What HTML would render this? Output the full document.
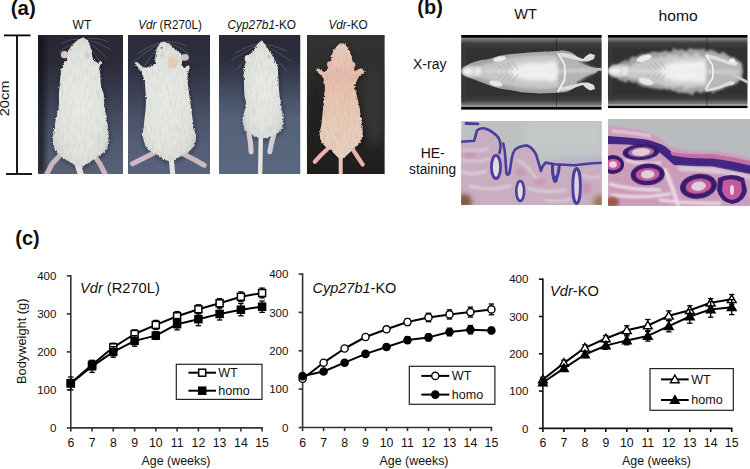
<!DOCTYPE html><html><head><meta charset="utf-8"><style>
html,body{margin:0;padding:0;background:#fff;width:750px;height:469px;overflow:hidden}
svg{display:block}
text{font-family:"Liberation Sans", sans-serif;fill:#111}
</style></head><body>
<svg width="750" height="469" viewBox="0 0 750 469">
<defs>
<filter id="b06" filterUnits="userSpaceOnUse" x="0" y="0" width="750" height="469"><feGaussianBlur stdDeviation="0.6"/></filter>
<filter id="b08" filterUnits="userSpaceOnUse" x="0" y="0" width="750" height="469"><feGaussianBlur stdDeviation="0.8"/></filter>
<filter id="hairy" filterUnits="userSpaceOnUse" x="0" y="0" width="750" height="469"><feTurbulence type="fractalNoise" baseFrequency="0.9 0.45" numOctaves="2" seed="3" result="n"/><feDisplacementMap in="SourceGraphic" in2="n" scale="3" xChannelSelector="R" yChannelSelector="G" result="d"/><feGaussianBlur in="d" stdDeviation="0.6"/></filter>
<filter id="cloudy" filterUnits="userSpaceOnUse" x="0" y="0" width="750" height="469"><feTurbulence type="fractalNoise" baseFrequency="0.18" numOctaves="2" seed="7" result="n"/><feDisplacementMap in="SourceGraphic" in2="n" scale="7" xChannelSelector="R" yChannelSelector="G" result="d"/><feGaussianBlur in="d" stdDeviation="1"/></filter>
<filter id="furtex" filterUnits="userSpaceOnUse" x="0" y="0" width="750" height="469"><feTurbulence type="fractalNoise" baseFrequency="0.5 0.12" numOctaves="2" seed="11" result="n"/><feColorMatrix in="n" type="matrix" values="0 0 0 0 0  0 0 0 0 0  0 0 0 0 0  0 0 0 -2.2 1.25" result="m"/><feComposite in="m" in2="SourceGraphic" operator="in"/></filter>
<filter id="b1" filterUnits="userSpaceOnUse" x="0" y="0" width="750" height="469"><feGaussianBlur stdDeviation="1"/></filter>
<filter id="b15" filterUnits="userSpaceOnUse" x="0" y="0" width="750" height="469"><feGaussianBlur stdDeviation="1.5"/></filter>
<filter id="b25" filterUnits="userSpaceOnUse" x="0" y="0" width="750" height="469"><feGaussianBlur stdDeviation="2.5"/></filter>
<filter id="b4" filterUnits="userSpaceOnUse" x="0" y="0" width="750" height="469"><feGaussianBlur stdDeviation="4"/></filter>
<linearGradient id="bg1" x1="0" y1="0" x2="0" y2="1"><stop offset="0" stop-color="#282633"/><stop offset="0.2" stop-color="#2c2b3a"/><stop offset="0.4" stop-color="#363a4c"/><stop offset="0.6" stop-color="#464d61"/><stop offset="0.8" stop-color="#525a70"/><stop offset="1" stop-color="#596177"/></linearGradient>
<linearGradient id="bg2" x1="0" y1="0" x2="0" y2="1"><stop offset="0" stop-color="#2b2b39"/><stop offset="0.2" stop-color="#2e2f3f"/><stop offset="0.4" stop-color="#3a3f52"/><stop offset="0.6" stop-color="#4a5368"/><stop offset="0.8" stop-color="#545e76"/><stop offset="1" stop-color="#58627b"/></linearGradient>
<linearGradient id="bg4v" x1="0" y1="0" x2="0" y2="1"><stop offset="0" stop-color="#323232"/><stop offset="0.4" stop-color="#2c2c2b"/><stop offset="0.75" stop-color="#252524"/><stop offset="1" stop-color="#1f1e1d"/></linearGradient>
<linearGradient id="bg3" x1="0" y1="0" x2="0" y2="1"><stop offset="0" stop-color="#292937"/><stop offset="0.18" stop-color="#2c2e3e"/><stop offset="0.32" stop-color="#3a4052"/><stop offset="0.47" stop-color="#48546a"/><stop offset="0.61" stop-color="#55627a"/><stop offset="1" stop-color="#58677f"/></linearGradient>
<radialGradient id="fur" cx="0.5" cy="0.5" r="0.62"><stop offset="0" stop-color="#e9ebe6"/><stop offset="0.6" stop-color="#e2e4df"/><stop offset="0.85" stop-color="#d8dbd6"/><stop offset="1" stop-color="#c4c7c4"/></radialGradient>
<linearGradient id="fur4" x1="0" y1="0" x2="0" y2="1"><stop offset="0" stop-color="#e8ccbc"/><stop offset="0.3" stop-color="#e6bcac"/><stop offset="0.55" stop-color="#e8c8b4"/><stop offset="1" stop-color="#e6d0be"/></linearGradient>
<linearGradient id="xbg" x1="0" y1="0" x2="0" y2="1"><stop offset="0" stop-color="#000"/><stop offset="0.033" stop-color="#030303"/><stop offset="0.04" stop-color="#8c8c8c"/><stop offset="0.055" stop-color="#7c7c7c"/><stop offset="0.11" stop-color="#404040"/><stop offset="0.2" stop-color="#323232"/><stop offset="0.8" stop-color="#313131"/><stop offset="0.87" stop-color="#3c3c3c"/><stop offset="0.935" stop-color="#777"/><stop offset="0.95" stop-color="#a4a4a4"/><stop offset="0.962" stop-color="#8a8a8a"/><stop offset="0.968" stop-color="#060606"/><stop offset="1" stop-color="#000"/></linearGradient>
<linearGradient id="he1" x1="0" y1="0" x2="0" y2="1"><stop offset="0" stop-color="#cdd0d6"/><stop offset="1" stop-color="#c8c8cc"/></linearGradient>
</defs>
<rect x="0" y="0" width="750" height="469" fill="#fff"/>
<text x="10.7" y="15.0" font-size="20.5" font-weight="bold">(a)</text>
<text x="417.3" y="14.2" font-size="20" font-weight="bold">(b)</text>
<text x="15.3" y="245.2" font-size="20" font-weight="bold">(c)</text>
<text x="81.9" y="29" font-size="12" text-anchor="middle">WT</text>
<text x="138.2" y="29" font-size="12" textLength="63.6" lengthAdjust="spacingAndGlyphs"><tspan font-style="italic">Vdr</tspan> (R270L)</text>
<text x="227.5" y="29" font-size="12" textLength="68.6" lengthAdjust="spacingAndGlyphs"><tspan font-style="italic">Cyp27b1</tspan>-KO</text>
<text x="328.4" y="29" font-size="12" textLength="39.4" lengthAdjust="spacingAndGlyphs"><tspan font-style="italic">Vdr</tspan>-KO</text>
<g stroke="#000" stroke-width="1.8" fill="none"><line x1="17" y1="35.4" x2="17" y2="174"/><line x1="4" y1="35.4" x2="30.5" y2="35.4"/><line x1="6" y1="174" x2="32" y2="174"/></g>
<text transform="translate(8.7,116.3) rotate(-90)" font-size="12.5" textLength="35.6" lengthAdjust="spacingAndGlyphs">20cm</text>
<clipPath id="c38"><rect x="38" y="35" width="85" height="139"/></clipPath>
<g clip-path="url(#c38)">
<rect x="38" y="35" width="85" height="139" fill="url(#bg1)"/><rect x="36" y="35" width="9" height="139" fill="#111118" opacity="0.7" filter="url(#b25)"/>
<g stroke="#d0d0d8" stroke-width="0.5" fill="none" opacity="0.45"><path d="M83,40 Q95,36 109,42"/><path d="M83,40 Q95,40 111,50"/><path d="M83,40 Q93,44 107,58"/><path d="M83,40 Q91,46 101,64"/><path d="M83,40 Q73,37 61,44"/><path d="M83,40 Q73,42 59,52"/><path d="M83,40 Q75,45 65,60"/></g>
<path d="M83.2,37.7 C84.6,37.9 86.2,39.0 87.4,40.3 C88.6,41.6 89.4,43.8 90.1,45.7 C90.8,47.7 91.3,50.0 91.7,52.0 C92.1,54.0 92.0,55.8 92.7,57.4 C93.4,59.0 94.9,60.8 95.9,61.6 C97.0,62.5 98.2,62.6 99.0,62.5 C99.8,62.4 100.3,60.7 100.7,60.8 C101.1,60.9 101.7,62.0 101.5,63.0 C101.3,64.0 99.7,65.0 99.5,67.0 C99.3,69.0 100.2,72.0 100.4,75.0 C100.6,78.0 100.4,81.7 100.9,85.0 C101.4,88.3 103.0,91.3 103.6,94.6 C104.2,97.9 103.9,100.9 104.4,105.0 C104.9,109.1 105.9,113.7 106.6,119.0 C107.3,124.3 108.8,131.9 108.8,136.8 C108.8,141.8 108.0,145.7 106.6,148.7 C105.2,151.7 103.1,152.7 100.6,154.7 C98.1,156.7 94.3,159.0 91.7,160.7 C89.1,162.4 87.0,163.9 85.0,165.0 C83.0,166.1 81.8,167.6 80.0,167.5 C78.2,167.4 76.5,165.6 74.5,164.5 C72.5,163.4 70.4,162.3 67.8,160.7 C65.2,159.1 61.2,157.0 58.9,154.7 C56.5,152.4 54.7,150.0 53.7,147.0 C52.7,144.0 52.5,141.5 52.9,136.8 C53.3,132.1 54.9,124.3 55.9,119.0 C56.9,113.7 58.4,109.1 58.9,105.0 C59.4,100.9 58.8,97.9 58.9,94.6 C59.0,91.3 59.5,87.8 59.7,85.0 C59.9,82.2 60.0,80.3 60.3,77.6 C60.6,74.9 60.7,71.5 61.3,69.0 C61.9,66.5 63.0,64.3 64.0,62.7 C65.0,61.1 66.6,61.3 67.2,59.5 C67.8,57.7 67.4,53.8 67.7,52.0 C68.0,50.2 68.3,50.3 69.3,48.9 C70.3,47.5 72.0,45.1 73.6,43.5 C75.2,41.9 77.3,40.3 78.9,39.3 C80.5,38.3 81.8,37.5 83.2,37.7Z" fill="#0a0a14" opacity="0.45" filter="url(#b25)" transform="translate(0.5,1.5)"/>
<path d="M60.4,154.7 L52,164 L46.9,174" fill="none" stroke="#cbb5bf" stroke-width="5" stroke-linecap="round" stroke-linejoin="round" filter="url(#b06)"/>
<path d="M94.7,156.2 L100,164 L105.1,174" fill="none" stroke="#cbb5bf" stroke-width="5" stroke-linecap="round" stroke-linejoin="round" filter="url(#b06)"/>
<path d="M77,162 L81,175" fill="none" stroke="#e2e2de" stroke-width="6" stroke-linecap="round" filter="url(#b06)"/>
<path d="M83.2,37.7 C84.6,37.9 86.2,39.0 87.4,40.3 C88.6,41.6 89.4,43.8 90.1,45.7 C90.8,47.7 91.3,50.0 91.7,52.0 C92.1,54.0 92.0,55.8 92.7,57.4 C93.4,59.0 94.9,60.8 95.9,61.6 C97.0,62.5 98.2,62.6 99.0,62.5 C99.8,62.4 100.3,60.7 100.7,60.8 C101.1,60.9 101.7,62.0 101.5,63.0 C101.3,64.0 99.7,65.0 99.5,67.0 C99.3,69.0 100.2,72.0 100.4,75.0 C100.6,78.0 100.4,81.7 100.9,85.0 C101.4,88.3 103.0,91.3 103.6,94.6 C104.2,97.9 103.9,100.9 104.4,105.0 C104.9,109.1 105.9,113.7 106.6,119.0 C107.3,124.3 108.8,131.9 108.8,136.8 C108.8,141.8 108.0,145.7 106.6,148.7 C105.2,151.7 103.1,152.7 100.6,154.7 C98.1,156.7 94.3,159.0 91.7,160.7 C89.1,162.4 87.0,163.9 85.0,165.0 C83.0,166.1 81.8,167.6 80.0,167.5 C78.2,167.4 76.5,165.6 74.5,164.5 C72.5,163.4 70.4,162.3 67.8,160.7 C65.2,159.1 61.2,157.0 58.9,154.7 C56.5,152.4 54.7,150.0 53.7,147.0 C52.7,144.0 52.5,141.5 52.9,136.8 C53.3,132.1 54.9,124.3 55.9,119.0 C56.9,113.7 58.4,109.1 58.9,105.0 C59.4,100.9 58.8,97.9 58.9,94.6 C59.0,91.3 59.5,87.8 59.7,85.0 C59.9,82.2 60.0,80.3 60.3,77.6 C60.6,74.9 60.7,71.5 61.3,69.0 C61.9,66.5 63.0,64.3 64.0,62.7 C65.0,61.1 66.6,61.3 67.2,59.5 C67.8,57.7 67.4,53.8 67.7,52.0 C68.0,50.2 68.3,50.3 69.3,48.9 C70.3,47.5 72.0,45.1 73.6,43.5 C75.2,41.9 77.3,40.3 78.9,39.3 C80.5,38.3 81.8,37.5 83.2,37.7Z" fill="url(#fur)" filter="url(#hairy)"/>
<path d="M83.2,37.7 C84.6,37.9 86.2,39.0 87.4,40.3 C88.6,41.6 89.4,43.8 90.1,45.7 C90.8,47.7 91.3,50.0 91.7,52.0 C92.1,54.0 92.0,55.8 92.7,57.4 C93.4,59.0 94.9,60.8 95.9,61.6 C97.0,62.5 98.2,62.6 99.0,62.5 C99.8,62.4 100.3,60.7 100.7,60.8 C101.1,60.9 101.7,62.0 101.5,63.0 C101.3,64.0 99.7,65.0 99.5,67.0 C99.3,69.0 100.2,72.0 100.4,75.0 C100.6,78.0 100.4,81.7 100.9,85.0 C101.4,88.3 103.0,91.3 103.6,94.6 C104.2,97.9 103.9,100.9 104.4,105.0 C104.9,109.1 105.9,113.7 106.6,119.0 C107.3,124.3 108.8,131.9 108.8,136.8 C108.8,141.8 108.0,145.7 106.6,148.7 C105.2,151.7 103.1,152.7 100.6,154.7 C98.1,156.7 94.3,159.0 91.7,160.7 C89.1,162.4 87.0,163.9 85.0,165.0 C83.0,166.1 81.8,167.6 80.0,167.5 C78.2,167.4 76.5,165.6 74.5,164.5 C72.5,163.4 70.4,162.3 67.8,160.7 C65.2,159.1 61.2,157.0 58.9,154.7 C56.5,152.4 54.7,150.0 53.7,147.0 C52.7,144.0 52.5,141.5 52.9,136.8 C53.3,132.1 54.9,124.3 55.9,119.0 C56.9,113.7 58.4,109.1 58.9,105.0 C59.4,100.9 58.8,97.9 58.9,94.6 C59.0,91.3 59.5,87.8 59.7,85.0 C59.9,82.2 60.0,80.3 60.3,77.6 C60.6,74.9 60.7,71.5 61.3,69.0 C61.9,66.5 63.0,64.3 64.0,62.7 C65.0,61.1 66.6,61.3 67.2,59.5 C67.8,57.7 67.4,53.8 67.7,52.0 C68.0,50.2 68.3,50.3 69.3,48.9 C70.3,47.5 72.0,45.1 73.6,43.5 C75.2,41.9 77.3,40.3 78.9,39.3 C80.5,38.3 81.8,37.5 83.2,37.7Z" fill="#000" opacity="0.06" filter="url(#furtex)"/>
<ellipse cx="64.5" cy="54.7" rx="3.7" ry="3.6" fill="#dcc4c8" filter="url(#b06)"/>
<ellipse cx="87.4" cy="55.7" rx="2.6" ry="2.6" fill="#e0c8c8" filter="url(#b06)"/>

</g>
<clipPath id="c128"><rect x="128" y="35" width="82" height="139"/></clipPath>
<g clip-path="url(#c128)">
<rect x="128" y="35" width="82" height="139" fill="url(#bg2)"/>
<g stroke="#d0d0d8" stroke-width="0.5" fill="none" opacity="0.45"><path d="M163,42 Q153,44 137,54"/><path d="M163,42 Q151,48 133,62"/><path d="M163,42 Q155,50 143,68"/><path d="M163,42 Q173,40 187,46"/><path d="M163,42 Q175,44 189,54"/></g>
<path d="M163.2,41.9 C164.8,41.7 166.6,42.3 168.5,43.5 C170.4,44.7 173.0,47.3 174.9,48.9 C176.8,50.5 178.9,52.1 180.2,53.1 C181.5,54.1 182.0,53.9 182.5,55.0 C183.0,56.1 183.2,58.4 183.0,60.0 C182.8,61.6 181.2,63.2 181.5,64.5 C181.8,65.8 183.6,67.8 184.5,68.0 C185.4,68.2 186.3,66.0 187.0,65.5 C187.7,65.0 188.0,64.8 188.5,65.2 C189.0,65.6 189.8,66.9 189.8,68.0 C189.8,69.1 188.9,70.4 188.5,72.0 C188.1,73.6 187.6,75.4 187.5,77.6 C187.4,79.8 187.5,80.4 188.0,85.0 C188.5,89.6 189.8,98.1 190.7,105.0 C191.6,111.9 192.8,120.8 193.7,126.4 C194.6,132.0 196.2,134.7 196.0,138.4 C195.8,142.1 194.3,146.1 192.2,148.8 C190.1,151.5 186.0,153.1 183.3,154.8 C180.6,156.5 178.2,158.0 176.0,159.0 C173.8,160.0 172.0,160.8 169.8,160.8 C167.6,160.8 165.5,160.2 163.0,159.0 C160.5,157.8 157.5,155.0 154.9,153.3 C152.3,151.6 149.4,151.5 147.4,148.8 C145.4,146.1 143.5,140.6 142.9,136.9 C142.3,133.2 143.2,131.9 143.7,126.4 C144.2,120.9 145.7,110.9 145.9,104.0 C146.1,97.1 145.3,89.0 145.0,85.0 C144.7,81.0 144.5,81.6 144.0,79.7 C143.5,77.8 143.0,75.5 141.9,73.4 C140.8,71.3 138.8,68.7 137.6,67.0 C136.4,65.3 134.8,64.3 134.5,63.5 C134.2,62.7 135.4,62.2 136.0,62.0 C136.6,61.8 137.4,62.1 138.0,62.5 C138.6,62.9 138.7,63.5 139.7,64.3 C140.7,65.1 142.4,67.1 144.0,67.5 C145.6,67.9 147.7,67.0 149.3,66.5 C150.9,66.0 152.5,65.1 153.6,64.5 C154.7,63.9 155.4,63.7 155.7,62.7 C156.0,61.7 155.1,60.4 155.2,58.4 C155.3,56.4 155.6,53.3 156.2,51.0 C156.8,48.7 157.7,46.1 158.9,44.6 C160.1,43.1 161.6,42.1 163.2,41.9Z" fill="#0a0a14" opacity="0.45" filter="url(#b25)" transform="translate(0.5,1.5)"/>
<path d="M153.4,153.3 L143,158.5 L132.5,163.7" fill="none" stroke="#cfb9c1" stroke-width="5" stroke-linecap="round" stroke-linejoin="round" filter="url(#b06)"/>
<path d="M184.8,154.8 L195,160 L204.2,165.2" fill="none" stroke="#cfb9c1" stroke-width="5" stroke-linecap="round" stroke-linejoin="round" filter="url(#b06)"/>
<path d="M171.3,159 L172.8,175" fill="none" stroke="#e4e4de" stroke-width="5" stroke-linecap="round" filter="url(#b06)"/>
<path d="M163.2,41.9 C164.8,41.7 166.6,42.3 168.5,43.5 C170.4,44.7 173.0,47.3 174.9,48.9 C176.8,50.5 178.9,52.1 180.2,53.1 C181.5,54.1 182.0,53.9 182.5,55.0 C183.0,56.1 183.2,58.4 183.0,60.0 C182.8,61.6 181.2,63.2 181.5,64.5 C181.8,65.8 183.6,67.8 184.5,68.0 C185.4,68.2 186.3,66.0 187.0,65.5 C187.7,65.0 188.0,64.8 188.5,65.2 C189.0,65.6 189.8,66.9 189.8,68.0 C189.8,69.1 188.9,70.4 188.5,72.0 C188.1,73.6 187.6,75.4 187.5,77.6 C187.4,79.8 187.5,80.4 188.0,85.0 C188.5,89.6 189.8,98.1 190.7,105.0 C191.6,111.9 192.8,120.8 193.7,126.4 C194.6,132.0 196.2,134.7 196.0,138.4 C195.8,142.1 194.3,146.1 192.2,148.8 C190.1,151.5 186.0,153.1 183.3,154.8 C180.6,156.5 178.2,158.0 176.0,159.0 C173.8,160.0 172.0,160.8 169.8,160.8 C167.6,160.8 165.5,160.2 163.0,159.0 C160.5,157.8 157.5,155.0 154.9,153.3 C152.3,151.6 149.4,151.5 147.4,148.8 C145.4,146.1 143.5,140.6 142.9,136.9 C142.3,133.2 143.2,131.9 143.7,126.4 C144.2,120.9 145.7,110.9 145.9,104.0 C146.1,97.1 145.3,89.0 145.0,85.0 C144.7,81.0 144.5,81.6 144.0,79.7 C143.5,77.8 143.0,75.5 141.9,73.4 C140.8,71.3 138.8,68.7 137.6,67.0 C136.4,65.3 134.8,64.3 134.5,63.5 C134.2,62.7 135.4,62.2 136.0,62.0 C136.6,61.8 137.4,62.1 138.0,62.5 C138.6,62.9 138.7,63.5 139.7,64.3 C140.7,65.1 142.4,67.1 144.0,67.5 C145.6,67.9 147.7,67.0 149.3,66.5 C150.9,66.0 152.5,65.1 153.6,64.5 C154.7,63.9 155.4,63.7 155.7,62.7 C156.0,61.7 155.1,60.4 155.2,58.4 C155.3,56.4 155.6,53.3 156.2,51.0 C156.8,48.7 157.7,46.1 158.9,44.6 C160.1,43.1 161.6,42.1 163.2,41.9Z" fill="url(#fur)" filter="url(#hairy)"/>
<path d="M163.2,41.9 C164.8,41.7 166.6,42.3 168.5,43.5 C170.4,44.7 173.0,47.3 174.9,48.9 C176.8,50.5 178.9,52.1 180.2,53.1 C181.5,54.1 182.0,53.9 182.5,55.0 C183.0,56.1 183.2,58.4 183.0,60.0 C182.8,61.6 181.2,63.2 181.5,64.5 C181.8,65.8 183.6,67.8 184.5,68.0 C185.4,68.2 186.3,66.0 187.0,65.5 C187.7,65.0 188.0,64.8 188.5,65.2 C189.0,65.6 189.8,66.9 189.8,68.0 C189.8,69.1 188.9,70.4 188.5,72.0 C188.1,73.6 187.6,75.4 187.5,77.6 C187.4,79.8 187.5,80.4 188.0,85.0 C188.5,89.6 189.8,98.1 190.7,105.0 C191.6,111.9 192.8,120.8 193.7,126.4 C194.6,132.0 196.2,134.7 196.0,138.4 C195.8,142.1 194.3,146.1 192.2,148.8 C190.1,151.5 186.0,153.1 183.3,154.8 C180.6,156.5 178.2,158.0 176.0,159.0 C173.8,160.0 172.0,160.8 169.8,160.8 C167.6,160.8 165.5,160.2 163.0,159.0 C160.5,157.8 157.5,155.0 154.9,153.3 C152.3,151.6 149.4,151.5 147.4,148.8 C145.4,146.1 143.5,140.6 142.9,136.9 C142.3,133.2 143.2,131.9 143.7,126.4 C144.2,120.9 145.7,110.9 145.9,104.0 C146.1,97.1 145.3,89.0 145.0,85.0 C144.7,81.0 144.5,81.6 144.0,79.7 C143.5,77.8 143.0,75.5 141.9,73.4 C140.8,71.3 138.8,68.7 137.6,67.0 C136.4,65.3 134.8,64.3 134.5,63.5 C134.2,62.7 135.4,62.2 136.0,62.0 C136.6,61.8 137.4,62.1 138.0,62.5 C138.6,62.9 138.7,63.5 139.7,64.3 C140.7,65.1 142.4,67.1 144.0,67.5 C145.6,67.9 147.7,67.0 149.3,66.5 C150.9,66.0 152.5,65.1 153.6,64.5 C154.7,63.9 155.4,63.7 155.7,62.7 C156.0,61.7 155.1,60.4 155.2,58.4 C155.3,56.4 155.6,53.3 156.2,51.0 C156.8,48.7 157.7,46.1 158.9,44.6 C160.1,43.1 161.6,42.1 163.2,41.9Z" fill="#000" opacity="0.06" filter="url(#furtex)"/>
<ellipse cx="185" cy="57.4" rx="3.8" ry="3.3" fill="#cfc0c6" filter="url(#b06)"/>
<ellipse cx="162" cy="55.2" rx="2" ry="2" fill="#e0c8c8" filter="url(#b06)"/>
<ellipse cx="173" cy="58" rx="5" ry="5.5" fill="#e2d6d2" filter="url(#b06)"/>
<ellipse cx="172.7" cy="62.7" rx="5.3" ry="5.6" fill="#e0cdb9" filter="url(#b06)"/>
<circle cx="161.6" cy="47.8" r="0.9" fill="#555"/>
</g>
<clipPath id="c219"><rect x="219" y="35" width="81.5" height="139"/></clipPath>
<g clip-path="url(#c219)">
<rect x="219" y="35" width="81.5" height="139" fill="url(#bg3)"/>
<g stroke="#d0d0d8" stroke-width="0.5" fill="none" opacity="0.45"><path d="M261,43 Q249,45 235,53"/><path d="M261,43 Q249,49 231,61"/><path d="M261,43 Q251,53 237,69"/><path d="M261,43 Q273,45 287,51"/><path d="M261,43 Q273,49 291,61"/><path d="M261,43 Q271,53 287,71"/></g>
<path d="M260.9,41.2 C262.3,41.0 263.8,42.8 265.2,44.4 C266.6,46.0 268.0,48.5 269.4,50.8 C270.8,53.1 272.6,56.2 273.7,58.2 C274.8,60.2 275.2,61.2 275.8,62.5 C276.4,63.8 277.0,64.5 277.4,65.7 C277.8,67.0 277.7,67.5 277.9,70.0 C278.1,72.5 278.2,76.5 278.5,80.6 C278.8,84.7 278.7,88.3 279.5,94.7 C280.3,101.1 282.8,113.2 283.2,119.0 C283.6,124.8 282.9,126.9 281.7,129.4 C280.5,131.9 279.0,132.4 275.8,133.9 C272.6,135.4 266.5,138.4 262.3,138.4 C258.1,138.4 253.4,135.4 250.4,133.9 C247.4,132.4 245.7,131.9 244.4,129.4 C243.2,126.9 242.7,123.2 242.9,119.0 C243.2,114.8 245.7,108.0 245.9,104.0 C246.2,100.0 244.7,98.6 244.4,94.7 C244.1,90.8 244.0,84.7 243.9,80.6 C243.8,76.5 243.7,72.7 243.9,70.0 C244.1,67.3 244.5,66.3 244.9,64.6 C245.3,62.9 246.0,61.6 246.5,60.0 C247.0,58.4 247.1,56.4 248.1,55.0 C249.1,53.6 251.0,53.5 252.4,51.9 C253.8,50.3 255.2,47.3 256.6,45.5 C258.0,43.7 259.5,41.4 260.9,41.2Z" fill="#0a0a14" opacity="0.45" filter="url(#b25)" transform="translate(0.5,1.5)"/>
<path d="M249,133.9 L250.5,143 L251.1,151.8" fill="none" stroke="#d8ccd4" stroke-width="5" stroke-linecap="round" stroke-linejoin="round" filter="url(#b06)"/>
<path d="M274,133.9 L271.5,143 L269.8,151.8" fill="none" stroke="#d8ccd4" stroke-width="5" stroke-linecap="round" stroke-linejoin="round" filter="url(#b06)"/>
<path d="M260.8,136 L260.5,155 L260.1,175" fill="none" stroke="#e6e6e0" stroke-width="4.4" stroke-linecap="round" filter="url(#b06)"/>
<path d="M260.9,41.2 C262.3,41.0 263.8,42.8 265.2,44.4 C266.6,46.0 268.0,48.5 269.4,50.8 C270.8,53.1 272.6,56.2 273.7,58.2 C274.8,60.2 275.2,61.2 275.8,62.5 C276.4,63.8 277.0,64.5 277.4,65.7 C277.8,67.0 277.7,67.5 277.9,70.0 C278.1,72.5 278.2,76.5 278.5,80.6 C278.8,84.7 278.7,88.3 279.5,94.7 C280.3,101.1 282.8,113.2 283.2,119.0 C283.6,124.8 282.9,126.9 281.7,129.4 C280.5,131.9 279.0,132.4 275.8,133.9 C272.6,135.4 266.5,138.4 262.3,138.4 C258.1,138.4 253.4,135.4 250.4,133.9 C247.4,132.4 245.7,131.9 244.4,129.4 C243.2,126.9 242.7,123.2 242.9,119.0 C243.2,114.8 245.7,108.0 245.9,104.0 C246.2,100.0 244.7,98.6 244.4,94.7 C244.1,90.8 244.0,84.7 243.9,80.6 C243.8,76.5 243.7,72.7 243.9,70.0 C244.1,67.3 244.5,66.3 244.9,64.6 C245.3,62.9 246.0,61.6 246.5,60.0 C247.0,58.4 247.1,56.4 248.1,55.0 C249.1,53.6 251.0,53.5 252.4,51.9 C253.8,50.3 255.2,47.3 256.6,45.5 C258.0,43.7 259.5,41.4 260.9,41.2Z" fill="url(#fur)" filter="url(#hairy)"/>
<path d="M260.9,41.2 C262.3,41.0 263.8,42.8 265.2,44.4 C266.6,46.0 268.0,48.5 269.4,50.8 C270.8,53.1 272.6,56.2 273.7,58.2 C274.8,60.2 275.2,61.2 275.8,62.5 C276.4,63.8 277.0,64.5 277.4,65.7 C277.8,67.0 277.7,67.5 277.9,70.0 C278.1,72.5 278.2,76.5 278.5,80.6 C278.8,84.7 278.7,88.3 279.5,94.7 C280.3,101.1 282.8,113.2 283.2,119.0 C283.6,124.8 282.9,126.9 281.7,129.4 C280.5,131.9 279.0,132.4 275.8,133.9 C272.6,135.4 266.5,138.4 262.3,138.4 C258.1,138.4 253.4,135.4 250.4,133.9 C247.4,132.4 245.7,131.9 244.4,129.4 C243.2,126.9 242.7,123.2 242.9,119.0 C243.2,114.8 245.7,108.0 245.9,104.0 C246.2,100.0 244.7,98.6 244.4,94.7 C244.1,90.8 244.0,84.7 243.9,80.6 C243.8,76.5 243.7,72.7 243.9,70.0 C244.1,67.3 244.5,66.3 244.9,64.6 C245.3,62.9 246.0,61.6 246.5,60.0 C247.0,58.4 247.1,56.4 248.1,55.0 C249.1,53.6 251.0,53.5 252.4,51.9 C253.8,50.3 255.2,47.3 256.6,45.5 C258.0,43.7 259.5,41.4 260.9,41.2Z" fill="#000" opacity="0.06" filter="url(#furtex)"/>
<ellipse cx="247.5" cy="58.5" rx="2.8" ry="3.6" fill="#e6e4e2" filter="url(#b06)"/>
<ellipse cx="269" cy="57" rx="2" ry="2" fill="#d8c4c4" filter="url(#b06)"/>

</g>
<clipPath id="c306"><rect x="306.8" y="35" width="78" height="139"/></clipPath>
<g clip-path="url(#c306)">
<rect x="306.8" y="35" width="78" height="139" fill="url(#bg4v)"/><ellipse cx="374" cy="105" rx="10" ry="40" fill="#363634" filter="url(#b4)"/><ellipse cx="316" cy="120" rx="7" ry="45" fill="#1e1d1c" opacity="0.7" filter="url(#b4)"/>

<path d="M342.0,43.3 C343.7,43.3 345.4,44.9 346.8,46.5 C348.2,48.1 349.6,50.8 350.5,52.9 C351.4,55.0 351.6,57.4 352.1,59.3 C352.6,61.1 353.2,62.6 353.5,64.0 C353.8,65.4 353.3,66.7 353.7,67.8 C354.1,68.9 354.8,70.4 355.8,70.5 C356.9,70.6 358.8,68.7 360.0,68.5 C361.2,68.3 362.6,68.9 363.3,69.5 C364.0,70.1 365.2,70.6 364.3,72.1 C363.4,73.6 359.4,76.5 358.0,78.5 C356.6,80.5 356.3,82.2 355.8,83.8 C355.3,85.4 354.6,84.6 355.1,88.0 C355.6,91.4 357.8,98.3 358.9,104.2 C360.0,110.1 361.2,118.6 361.8,123.4 C362.4,128.2 363.0,129.8 362.7,133.0 C362.4,136.2 361.8,139.5 359.9,142.5 C358.0,145.5 354.4,148.5 351.2,151.2 C348.0,153.9 344.0,159.0 340.7,158.8 C337.4,158.6 334.0,152.6 331.1,150.2 C328.2,147.8 325.3,147.1 323.4,144.5 C321.5,141.9 319.9,138.4 319.6,134.9 C319.3,131.4 320.9,128.5 321.5,123.4 C322.1,118.3 322.8,110.1 323.4,104.2 C324.0,98.3 324.8,91.6 324.9,88.0 C325.0,84.4 324.2,84.5 323.9,82.7 C323.5,80.9 324.1,79.4 322.8,77.4 C321.6,75.5 317.5,72.4 316.4,71.0 C315.3,69.6 315.9,69.2 316.4,68.9 C316.9,68.6 318.2,68.4 319.6,68.9 C321.0,69.4 323.5,72.3 324.9,72.1 C326.3,71.9 327.2,69.5 328.1,67.8 C329.0,66.1 329.5,63.6 330.0,62.0 C330.5,60.4 330.8,59.9 331.3,58.2 C331.8,56.5 332.0,53.9 332.9,51.9 C333.8,49.9 335.1,47.9 336.6,46.5 C338.1,45.1 340.3,43.3 342.0,43.3Z" fill="#0a0a14" opacity="0.45" filter="url(#b25)" transform="translate(0.5,1.5)"/>
<path d="M328.2,148.3 L321,155 L314.8,161.7" fill="none" stroke="#e9b2ae" stroke-width="4.2" stroke-linecap="round" stroke-linejoin="round" filter="url(#b06)"/>
<path d="M353.2,150.2 L358,157.5 L362.7,164.6" fill="none" stroke="#e9b2ae" stroke-width="4.2" stroke-linecap="round" stroke-linejoin="round" filter="url(#b06)"/>
<path d="M340.7,157.9 L340.7,175" fill="none" stroke="#ecc4b6" stroke-width="4" stroke-linecap="round" filter="url(#b06)"/>
<path d="M342.0,43.3 C343.7,43.3 345.4,44.9 346.8,46.5 C348.2,48.1 349.6,50.8 350.5,52.9 C351.4,55.0 351.6,57.4 352.1,59.3 C352.6,61.1 353.2,62.6 353.5,64.0 C353.8,65.4 353.3,66.7 353.7,67.8 C354.1,68.9 354.8,70.4 355.8,70.5 C356.9,70.6 358.8,68.7 360.0,68.5 C361.2,68.3 362.6,68.9 363.3,69.5 C364.0,70.1 365.2,70.6 364.3,72.1 C363.4,73.6 359.4,76.5 358.0,78.5 C356.6,80.5 356.3,82.2 355.8,83.8 C355.3,85.4 354.6,84.6 355.1,88.0 C355.6,91.4 357.8,98.3 358.9,104.2 C360.0,110.1 361.2,118.6 361.8,123.4 C362.4,128.2 363.0,129.8 362.7,133.0 C362.4,136.2 361.8,139.5 359.9,142.5 C358.0,145.5 354.4,148.5 351.2,151.2 C348.0,153.9 344.0,159.0 340.7,158.8 C337.4,158.6 334.0,152.6 331.1,150.2 C328.2,147.8 325.3,147.1 323.4,144.5 C321.5,141.9 319.9,138.4 319.6,134.9 C319.3,131.4 320.9,128.5 321.5,123.4 C322.1,118.3 322.8,110.1 323.4,104.2 C324.0,98.3 324.8,91.6 324.9,88.0 C325.0,84.4 324.2,84.5 323.9,82.7 C323.5,80.9 324.1,79.4 322.8,77.4 C321.6,75.5 317.5,72.4 316.4,71.0 C315.3,69.6 315.9,69.2 316.4,68.9 C316.9,68.6 318.2,68.4 319.6,68.9 C321.0,69.4 323.5,72.3 324.9,72.1 C326.3,71.9 327.2,69.5 328.1,67.8 C329.0,66.1 329.5,63.6 330.0,62.0 C330.5,60.4 330.8,59.9 331.3,58.2 C331.8,56.5 332.0,53.9 332.9,51.9 C333.8,49.9 335.1,47.9 336.6,46.5 C338.1,45.1 340.3,43.3 342.0,43.3Z" fill="url(#fur4)" filter="url(#hairy)"/>
<path d="M342.0,43.3 C343.7,43.3 345.4,44.9 346.8,46.5 C348.2,48.1 349.6,50.8 350.5,52.9 C351.4,55.0 351.6,57.4 352.1,59.3 C352.6,61.1 353.2,62.6 353.5,64.0 C353.8,65.4 353.3,66.7 353.7,67.8 C354.1,68.9 354.8,70.4 355.8,70.5 C356.9,70.6 358.8,68.7 360.0,68.5 C361.2,68.3 362.6,68.9 363.3,69.5 C364.0,70.1 365.2,70.6 364.3,72.1 C363.4,73.6 359.4,76.5 358.0,78.5 C356.6,80.5 356.3,82.2 355.8,83.8 C355.3,85.4 354.6,84.6 355.1,88.0 C355.6,91.4 357.8,98.3 358.9,104.2 C360.0,110.1 361.2,118.6 361.8,123.4 C362.4,128.2 363.0,129.8 362.7,133.0 C362.4,136.2 361.8,139.5 359.9,142.5 C358.0,145.5 354.4,148.5 351.2,151.2 C348.0,153.9 344.0,159.0 340.7,158.8 C337.4,158.6 334.0,152.6 331.1,150.2 C328.2,147.8 325.3,147.1 323.4,144.5 C321.5,141.9 319.9,138.4 319.6,134.9 C319.3,131.4 320.9,128.5 321.5,123.4 C322.1,118.3 322.8,110.1 323.4,104.2 C324.0,98.3 324.8,91.6 324.9,88.0 C325.0,84.4 324.2,84.5 323.9,82.7 C323.5,80.9 324.1,79.4 322.8,77.4 C321.6,75.5 317.5,72.4 316.4,71.0 C315.3,69.6 315.9,69.2 316.4,68.9 C316.9,68.6 318.2,68.4 319.6,68.9 C321.0,69.4 323.5,72.3 324.9,72.1 C326.3,71.9 327.2,69.5 328.1,67.8 C329.0,66.1 329.5,63.6 330.0,62.0 C330.5,60.4 330.8,59.9 331.3,58.2 C331.8,56.5 332.0,53.9 332.9,51.9 C333.8,49.9 335.1,47.9 336.6,46.5 C338.1,45.1 340.3,43.3 342.0,43.3Z" fill="#000" opacity="0.06" filter="url(#furtex)"/>
<ellipse cx="330" cy="64.5" rx="3" ry="3.2" fill="#eab8b0" filter="url(#b06)"/>
<ellipse cx="352.6" cy="65" rx="2.8" ry="3" fill="#eab8b0" filter="url(#b06)"/>

</g>
<text x="525.5" y="19.2" font-size="14.5" text-anchor="middle">WT</text>
<text x="678.2" y="20.6" font-size="14.5" text-anchor="middle" textLength="39.2" lengthAdjust="spacingAndGlyphs">homo</text>
<text x="413" y="68.8" font-size="14" textLength="33.5" lengthAdjust="spacingAndGlyphs">X-ray</text>
<text x="432.7" y="158" font-size="14" text-anchor="middle">HE-</text>
<text x="432.6" y="174.4" font-size="14" text-anchor="middle" textLength="47" lengthAdjust="spacingAndGlyphs">staining</text>
<clipPath id="cx461"><rect x="461.1" y="34.9" width="140.7" height="74.9"/></clipPath>
<g clip-path="url(#cx461)">
<rect x="461.1" y="34.9" width="140.7" height="74.9" fill="url(#xbg)"/>
<rect x="462.1" y="42.9" width="4" height="58.900000000000006" fill="#3c3c3c" opacity="0.8" filter="url(#b1)"/>
<line x1="556.5" y1="34.9" x2="556.5" y2="109.80000000000001" stroke="#1a1a1a" stroke-width="0.8" opacity="0.6"/>
<path d="M461.5,71.0 C461.5,69.9 461.6,69.0 463.0,67.8 C464.4,66.6 466.9,65.0 469.6,63.8 C472.3,62.6 476.0,61.4 479.2,60.6 C482.4,59.8 485.3,59.8 488.8,59.0 C492.3,58.2 496.3,56.6 500.0,55.8 C503.7,54.9 507.2,54.4 511.2,53.9 C515.2,53.4 519.2,53.2 524.0,52.9 C528.8,52.5 534.5,52.1 540.0,51.8 C545.5,51.5 553.3,51.3 557.0,51.0 C560.7,50.7 559.9,50.1 562.0,50.2 C564.1,50.3 567.4,50.9 569.8,51.8 C572.2,52.7 574.9,54.1 576.2,55.8 C577.5,57.5 575.7,60.5 577.8,62.2 C579.9,63.9 585.8,65.2 589.0,66.2 C592.2,67.2 595.7,67.5 597.0,68.5 C598.3,69.5 598.3,70.9 597.0,72.0 C595.7,73.1 592.2,73.7 589.0,75.0 C585.8,76.3 580.0,77.9 577.8,79.8 C575.6,81.7 577.5,84.3 576.0,86.2 C574.5,88.1 571.7,89.9 569.0,91.0 C566.3,92.1 564.7,92.2 560.0,92.6 C555.3,93.0 546.8,93.4 541.0,93.4 C535.2,93.4 530.0,93.1 525.0,92.6 C520.0,92.1 515.4,90.9 511.2,90.2 C507.0,89.5 503.7,89.5 500.0,88.6 C496.3,87.7 492.3,86.2 488.8,85.0 C485.3,83.8 482.4,82.7 479.2,81.5 C476.0,80.3 472.3,79.0 469.6,77.8 C466.9,76.6 464.4,75.6 463.0,74.5 C461.6,73.4 461.5,72.1 461.5,71.0Z" fill="#a2a2a2" filter="url(#b06)"/>
<path d="M466.0,71.0 C466.0,69.2 473.7,67.4 478.0,66.0 C482.3,64.6 487.5,63.7 492.0,62.5 C496.5,61.3 500.3,60.0 505.0,59.0 C509.7,58.0 514.2,57.2 520.0,56.5 C525.8,55.8 534.0,55.2 540.0,55.0 C546.0,54.8 552.2,54.7 556.0,55.5 C559.8,56.3 561.3,57.3 563.0,60.0 C564.7,62.7 566.0,67.7 566.0,71.5 C566.0,75.3 564.7,80.2 563.0,83.0 C561.3,85.8 559.8,87.0 556.0,88.0 C552.2,89.0 546.0,89.1 540.0,89.0 C534.0,88.9 525.8,88.2 520.0,87.5 C514.2,86.8 509.7,85.6 505.0,84.5 C500.3,83.4 496.5,82.2 492.0,81.0 C487.5,79.8 482.3,78.7 478.0,77.0 C473.7,75.3 466.0,72.8 466.0,71.0Z" fill="#c6c6c6" filter="url(#b15)"/>
<ellipse cx="536" cy="71.5" rx="26" ry="9" fill="#f2f2f2" filter="url(#b25)"/>
<ellipse cx="552" cy="71.5" rx="9" ry="10" fill="#f0f0f0" filter="url(#b25)"/>
<g stroke="#a8a8a8" stroke-width="0.8" opacity="0.7" filter="url(#b06)"><path d="M497,64 L503,70 M502,63 L508,70 M507,62 L513,70 M512,61.5 L518,70"/><path d="M497,80 L503,74 M502,81 L508,74 M507,82 L513,74 M512,82.5 L518,74"/></g>
<path d="M558,54 L572,56 L588,66 L596,69.5 L596,72 L588,76 L572,86 L558,89 Z" fill="#b4b4b4" filter="url(#b15)"/>
<path d="M485,71.5 L560,71 L596,70" stroke="#e6e6e6" stroke-width="3" fill="none" opacity="0.6" filter="url(#b15)"/>
<ellipse cx="472" cy="71.5" rx="10" ry="5.5" fill="#d4d4d4" filter="url(#b1)"/>
<ellipse cx="468" cy="71.5" rx="5" ry="3" fill="#eeeeee" filter="url(#b1)"/>
<ellipse cx="478" cy="71.5" rx="3" ry="4" fill="#e8e8e8" filter="url(#b1)"/>
<ellipse cx="499.5" cy="59" rx="6.5" ry="2.6" fill="#ececec" transform="rotate(-12,499.5,59)" filter="url(#b06)"/>
<ellipse cx="496" cy="83.5" rx="7" ry="2.8" fill="#e8e8e8" transform="rotate(12,496,83.5)" filter="url(#b06)"/>
<path d="M560,52.5 L570,54 L578,57 L583,59 L586,56 L590,53.5 L595,55 L594,59 L588,61.5 L582,61.5 L572,59 L561,56.5 Z" fill="#dedede" filter="url(#b06)"/>
<path d="M560,91 L570,89.5 L578,86.5 L583,85 L586,88 L590,90.5 L595,89 L594,85 L588,82.5 L582,82.5 L572,85 L561,87.5 Z" fill="#dedede" filter="url(#b06)"/>
<g stroke="#f6f6f6" stroke-width="1.6" fill="none" filter="url(#b06)"><path d="M557.8,52.6 L564.5,64.6 L565,72"/><path d="M557.8,92 L564.5,80 L565,72"/></g>
<path d="M590,69.5 L603,69.3" stroke="#bcbcbc" stroke-width="3" fill="none" filter="url(#b06)"/>
</g>
<clipPath id="cx607"><rect x="607.9" y="34.9" width="139.8" height="73.4"/></clipPath>
<g clip-path="url(#cx607)">
<rect x="607.9" y="34.9" width="139.8" height="73.4" fill="url(#xbg)"/>
<rect x="608.9" y="42.9" width="4" height="57.400000000000006" fill="#3c3c3c" opacity="0.8" filter="url(#b1)"/>
<line x1="707" y1="34.9" x2="707" y2="108.30000000000001" stroke="#1a1a1a" stroke-width="0.8" opacity="0.6"/>
<path d="M608.0,71.0 C608.0,70.0 607.0,69.2 609.0,68.0 C611.0,66.8 615.7,65.6 620.0,63.8 C624.3,62.0 630.0,59.3 635.0,57.4 C640.0,55.5 644.2,53.8 650.0,52.6 C655.8,51.4 664.2,50.7 670.0,50.2 C675.8,49.7 680.0,49.7 685.0,49.6 C690.0,49.5 696.2,49.2 700.0,49.4 C703.8,49.5 704.7,50.1 708.0,50.5 C711.3,50.9 716.3,51.1 720.0,52.0 C723.7,52.9 727.0,54.7 730.0,56.0 C733.0,57.3 736.0,58.5 738.0,60.0 C740.0,61.5 741.2,63.2 742.0,65.0 C742.8,66.8 743.0,68.8 743.0,71.0 C743.0,73.2 743.3,75.8 742.0,78.0 C740.7,80.2 737.8,82.3 735.0,84.0 C732.2,85.7 728.3,86.8 725.0,88.0 C721.7,89.2 718.3,90.2 715.0,91.0 C711.7,91.8 709.2,92.1 705.0,92.5 C700.8,92.9 694.2,93.7 690.0,93.6 C685.8,93.5 683.3,92.6 680.0,92.0 C676.7,91.4 675.0,90.9 670.0,90.2 C665.0,89.5 655.8,89.0 650.0,87.8 C644.2,86.6 640.0,84.5 635.0,83.0 C630.0,81.5 624.3,80.5 620.0,79.0 C615.7,77.5 611.0,75.3 609.0,74.0 C607.0,72.7 608.0,72.0 608.0,71.0Z" fill="#a2a2a2" filter="url(#cloudy)"/>
<path d="M612.0,71.0 C612.0,69.4 619.5,68.2 625.0,66.5 C630.5,64.8 638.3,62.2 645.0,60.5 C651.7,58.8 657.5,57.0 665.0,56.0 C672.5,55.0 682.8,54.5 690.0,54.5 C697.2,54.5 703.7,54.8 708.0,56.0 C712.3,57.2 714.2,59.5 716.0,62.0 C717.8,64.5 719.0,68.0 719.0,71.0 C719.0,74.0 717.8,77.5 716.0,80.0 C714.2,82.5 712.3,84.7 708.0,86.0 C703.7,87.3 697.2,88.0 690.0,88.0 C682.8,88.0 672.5,87.0 665.0,86.0 C657.5,85.0 651.7,83.7 645.0,82.0 C638.3,80.3 630.5,77.8 625.0,76.0 C619.5,74.2 612.0,72.6 612.0,71.0Z" fill="#c8c8c8" filter="url(#cloudy)"/>
<ellipse cx="686" cy="71.5" rx="26" ry="10.5" fill="#f2f2f2" filter="url(#b25)"/>
<ellipse cx="702" cy="71.5" rx="9" ry="11" fill="#f0f0f0" filter="url(#b25)"/>
<g stroke="#aaaaaa" stroke-width="0.8" opacity="0.7" filter="url(#b06)"><path d="M645,64 L651,70 M650,63 L656,70 M655,62 L661,70 M660,61.5 L666,70"/><path d="M645,79 L651,73 M650,80 L656,73 M655,81 L661,73 M660,81.5 L666,73"/></g>
<path d="M706,54 L725,56 L741,65 L741,79 L725,87 L706,90 Z" fill="#b8b8b8" filter="url(#b15)"/>
<path d="M630,71 L712,71.5 L738,72" stroke="#e6e6e6" stroke-width="3" fill="none" opacity="0.6" filter="url(#b15)"/>
<ellipse cx="619" cy="71" rx="11" ry="6" fill="#d4d4d4" filter="url(#b1)"/>
<ellipse cx="615" cy="71" rx="6" ry="3" fill="#eeeeee" filter="url(#b1)"/>
<ellipse cx="625" cy="71" rx="3" ry="4" fill="#e8e8e8" filter="url(#b1)"/>
<ellipse cx="644" cy="58.3" rx="8" ry="3" fill="#ececec" transform="rotate(-18,644,58.3)" filter="url(#b06)"/>
<ellipse cx="646" cy="81.5" rx="7.5" ry="3.2" fill="#e8e8e8" transform="rotate(15,646,81.5)" filter="url(#b06)"/>
<path d="M707,54 L718,57 L728,61 L733,60 L738,62.5 L736,66 L729,64.5 L717,60.5 L706,57.5 Z" fill="#dedede" filter="url(#b06)"/>
<path d="M706,89.5 L718,86.5 L727,82.5 L731,81 L735,82 L733,85 L728,85.5 L717,89.5 L706,91.5 Z" fill="#dedede" filter="url(#b06)"/>
<ellipse cx="732" cy="61" rx="3" ry="2.5" fill="#f0f0f0" filter="url(#b06)"/>
<g stroke="#f6f6f6" stroke-width="1.6" fill="none" filter="url(#b06)"><path d="M706.2,55 L712.6,65.4 L713,72"/><path d="M705.4,89.4 L712.6,78.2 L713,72"/></g>
<path d="M732,74 L748,82.5" stroke="#c8c8c8" stroke-width="3" fill="none" filter="url(#b06)"/>
</g>
<clipPath id="ch461"><rect x="461.2" y="121" width="140.5" height="84"/></clipPath>
<g clip-path="url(#ch461)">
<rect x="461" y="121" width="141" height="84" fill="#bdc1c2"/>
<rect x="525" y="121" width="77" height="32" fill="#c4c8c8" filter="url(#b4)"/>
<path d="M461,141.7 L474.2,140.7 L477,130.4 L483.6,128.5 L493,132.3 L498.6,137.9 L500.5,145.4 L503.3,143.6 L505.2,158.6 L507,175.5 L510.8,168 L512.7,154.8 L515.5,149.2 L519.3,146.4 L526.8,145.4 L532.4,149.2 L536.2,154.8 L539,164.2 L540.9,170.8 L542.8,166.1 L545.6,162.4 L555,164.2 L573.8,165.2 L592.6,163.3 L602,162.7 L602,205 L461,205 Z" fill="#c9adc0" filter="url(#b06)"/>
<path d="M545,162 Q570,156 602,157 L602,163 L545,163Z" fill="#bcb4cc" filter="url(#b1)"/>
<g stroke="#d9ccd6" fill="none" stroke-linecap="round" filter="url(#b1)"><path d="M463,150 Q475,152 488,149" stroke-width="2.5"/><path d="M463,160 Q476,163 489,159" stroke-width="2.5"/><path d="M462,172 Q474,176 486,171" stroke-width="3"/><path d="M470,186 Q490,192 510,186" stroke-width="3"/><path d="M518,160 Q528,166 536,178" stroke-width="2.5"/><path d="M528,188 Q545,194 565,190" stroke-width="3"/><path d="M583,175 Q592,180 600,176" stroke-width="2.5"/><path d="M545,200 Q560,203 570,199" stroke-width="2.5"/></g>
<g fill="#c48fae" opacity="0.7" filter="url(#b15)"><ellipse cx="470" cy="155" rx="6" ry="3"/><ellipse cx="520" cy="172" rx="5" ry="4"/><ellipse cx="586" cy="188" rx="5" ry="6"/><ellipse cx="540" cy="182" rx="6" ry="3"/></g>
<ellipse cx="463" cy="202" rx="9" ry="8" fill="#7e5a44" filter="url(#b25)"/>
<ellipse cx="601" cy="202" rx="8" ry="7" fill="#9a7a54" filter="url(#b25)"/>
<g fill="none" stroke="#4a3d9e" stroke-width="2.6" stroke-linejoin="round" stroke-linecap="round" filter="url(#b06)">
<path d="M461,141.7 L474.2,140.7 L477,130.4 Q480,127.5 485,128.5 Q493,131 498.6,137.9 Q501,142 500.5,147 L499.5,153"/>
<path d="M466,123.5 L478,123.8" stroke-width="2.8"/>
<ellipse cx="496" cy="167" rx="4.6" ry="11.5" stroke-width="2.8" fill="#e2dae6"/>
<path d="M503.3,143.6 Q505,150 505.4,158.6 L506.4,173 Q507.5,176.5 509.5,173 L511.5,160 Q512.7,152 515.5,149.2 Q519,146.4 526.8,145.4 Q532.4,147 536.2,154.8 L539,164.2 L540.9,170.8 L542.8,166.1 L545.6,162.6 L555,164.2 L573.8,165.2 L592.6,163.3 L602,162.7"/>
<ellipse cx="520.2" cy="191" rx="3.9" ry="10" stroke-width="2.6" fill="#e4dce6"/>
<path d="M552.5,165.5 Q552,176 555,181.5 Q558.5,176 559.3,166" stroke-width="3"/>
<ellipse cx="576.6" cy="186" rx="3.8" ry="17.5" stroke-width="2.8" fill="#dcd2e0"/>
</g>
<ellipse cx="555.3" cy="179" rx="2.6" ry="3.5" fill="#4a3d9e" filter="url(#b06)"/>
</g>
<clipPath id="ch608"><rect x="608" y="119" width="142" height="87"/></clipPath>
<g clip-path="url(#ch608)">
<rect x="608" y="119" width="142" height="87" fill="#b9bcbe"/>
<path d="M608,126 Q620,126 632,129 Q648,131 660,138 L668,146 Q680,150 700,152 Q720,151 735,154 Q745,157 750,158 L750,206 L608,206 Z" fill="#cc9cbc" filter="url(#b1)"/>
<g stroke="#ecdce4" fill="none" stroke-linecap="round" filter="url(#b1)"><path d="M612,131 Q630,132 650,136" stroke-width="2"/><path d="M626,160 Q640,165 660,163" stroke-width="2.5"/><path d="M610,184 Q630,190 660,190" stroke-width="3"/><path d="M612,195 Q640,199 670,194" stroke-width="3"/><path d="M665,170 Q672,185 678,205" stroke-width="4"/><path d="M684,168 Q700,170 720,172" stroke-width="2.5"/><path d="M660,200 Q690,204 720,203" stroke-width="3"/></g>
<path d="M608,136 Q628,137 646,139.5 Q658,142 666,147 L674,154 Q690,158 712,157.5 Q730,160 750,164.5 L750,174 Q731,170.5 712,166.5 Q693,166.5 674,165 L665,157 Q655,148 646,146 Q628,144 608,144 Z" fill="#432682" filter="url(#b06)"/>
<path d="M670,152 Q690,155 712,154 Q732,156.5 750,161 L750,165.5 Q730,160.5 712,158.5 Q690,159 672,155.5Z" fill="#c46ea6" filter="url(#b06)"/>
<path d="M676,166 Q700,167 714,167.5 Q732,171 750,175 L750,179 Q730,175 712,172 Q695,171.5 680,171Z" fill="#d6cad4" filter="url(#b1)"/>
<g transform="rotate(-4,641.1,152.1)" filter="url(#b06)"><ellipse cx="641.1" cy="152.1" rx="18.5" ry="8" fill="#371a6c"/><ellipse cx="641.1" cy="152.1" rx="12.9" ry="4.8" fill="#b66aa4"/><ellipse cx="641.1" cy="152.1" rx="9.2" ry="3.8" fill="#e2ccd8"/></g>
<g transform="rotate(0,613,164.5)" filter="url(#b06)"><ellipse cx="613" cy="164.5" rx="11" ry="9.5" fill="#371a6c"/><ellipse cx="613" cy="164.5" rx="7.7" ry="5.7" fill="#c25a9c"/><ellipse cx="613" cy="164.5" rx="3.8" ry="3.2" fill="#ead6e0"/></g>
<g transform="rotate(-3,647.7,174.4)" filter="url(#b06)"><ellipse cx="647.7" cy="174.4" rx="17" ry="10.9" fill="#371a6c"/><ellipse cx="647.7" cy="174.4" rx="11.9" ry="6.5" fill="#c25a9c"/><ellipse cx="647.7" cy="174.4" rx="6.8" ry="4.1" fill="#dcd2da"/></g>
<g transform="rotate(-8,698.5,186.2)" filter="url(#b06)"><ellipse cx="698.5" cy="186.2" rx="18.5" ry="12.3" fill="#371a6c"/><ellipse cx="698.5" cy="186.2" rx="12.9" ry="7.4" fill="#c25a9c"/><ellipse cx="698.5" cy="186.2" rx="7.4" ry="4.7" fill="#dcd2da"/></g>
<path d="M718,178 Q732,172 744,178 L747,190 Q745,202 732,204 Q720,202 717,190Z" fill="#3c1f73" filter="url(#b06)"/>
<path d="M723,181 Q732,177 741,182 L742,190 Q740,199 732,200 Q724,199 722,190Z" fill="#c25a9c" filter="url(#b06)"/>
<ellipse cx="732" cy="190" rx="2" ry="5" fill="#ead6e0" filter="url(#b06)"/>
<ellipse cx="612" cy="202" rx="7" ry="5" fill="#9c5448" filter="url(#b15)"/>
</g>
<g stroke="#333" stroke-width="1.6" fill="none">
<line x1="70.8" y1="275.1" x2="70.8" y2="427.9"/>
<line x1="70.0" y1="427.9" x2="262.9" y2="427.9"/>
<line x1="66.8" y1="427.9" x2="70.8" y2="427.9"/>
<line x1="66.8" y1="389.9" x2="70.8" y2="389.9"/>
<line x1="66.8" y1="351.9" x2="70.8" y2="351.9"/>
<line x1="66.8" y1="313.9" x2="70.8" y2="313.9"/>
<line x1="66.8" y1="275.9" x2="70.8" y2="275.9"/>
<line x1="70.8" y1="427.9" x2="70.8" y2="431.5"/>
<line x1="92.1" y1="427.9" x2="92.1" y2="431.5"/>
<line x1="113.3" y1="427.9" x2="113.3" y2="431.5"/>
<line x1="134.6" y1="427.9" x2="134.6" y2="431.5"/>
<line x1="155.8" y1="427.9" x2="155.8" y2="431.5"/>
<line x1="177.1" y1="427.9" x2="177.1" y2="431.5"/>
<line x1="198.4" y1="427.9" x2="198.4" y2="431.5"/>
<line x1="219.6" y1="427.9" x2="219.6" y2="431.5"/>
<line x1="240.9" y1="427.9" x2="240.9" y2="431.5"/>
<line x1="262.1" y1="427.9" x2="262.1" y2="431.5"/>
</g>
<text x="56.4" y="432.0" font-size="11.5" text-anchor="end">0</text>
<text x="56.4" y="394.0" font-size="11.5" text-anchor="end">100</text>
<text x="56.4" y="356.0" font-size="11.5" text-anchor="end">200</text>
<text x="56.4" y="318.0" font-size="11.5" text-anchor="end">300</text>
<text x="56.4" y="280.0" font-size="11.5" text-anchor="end">400</text>
<text x="70.8" y="447.4" font-size="12.3" text-anchor="middle">6</text>
<text x="92.1" y="447.4" font-size="12.3" text-anchor="middle">7</text>
<text x="113.3" y="447.4" font-size="12.3" text-anchor="middle">8</text>
<text x="134.6" y="447.4" font-size="12.3" text-anchor="middle">9</text>
<text x="155.8" y="447.4" font-size="12.3" text-anchor="middle">10</text>
<text x="177.1" y="447.4" font-size="12.3" text-anchor="middle">11</text>
<text x="198.4" y="447.4" font-size="12.3" text-anchor="middle">12</text>
<text x="219.6" y="447.4" font-size="12.3" text-anchor="middle">13</text>
<text x="240.9" y="447.4" font-size="12.3" text-anchor="middle">14</text>
<text x="262.1" y="447.4" font-size="12.3" text-anchor="middle">15</text>
<text x="176" y="465.2" font-size="12.5" text-anchor="middle" textLength="69" lengthAdjust="spacingAndGlyphs">Age (weeks)</text>
<text x="80.0" y="293" font-size="14" textLength="79.8" lengthAdjust="spacingAndGlyphs"><tspan font-style="italic">Vdr</tspan> (R270L)</text>
<g stroke="#000" stroke-width="1.3">
<line x1="70.8" y1="380.0" x2="70.8" y2="386.1"/>
<line x1="68.1" y1="380.0" x2="73.5" y2="380.0"/>
<line x1="68.1" y1="386.1" x2="73.5" y2="386.1"/>
<line x1="92.1" y1="361.0" x2="92.1" y2="368.6"/>
<line x1="89.4" y1="361.0" x2="94.8" y2="361.0"/>
<line x1="89.4" y1="368.6" x2="94.8" y2="368.6"/>
<line x1="113.3" y1="343.2" x2="113.3" y2="351.5"/>
<line x1="110.6" y1="343.2" x2="116.0" y2="343.2"/>
<line x1="110.6" y1="351.5" x2="116.0" y2="351.5"/>
<line x1="134.6" y1="329.9" x2="134.6" y2="338.2"/>
<line x1="131.9" y1="329.9" x2="137.3" y2="329.9"/>
<line x1="131.9" y1="338.2" x2="137.3" y2="338.2"/>
<line x1="155.8" y1="320.4" x2="155.8" y2="329.5"/>
<line x1="153.1" y1="320.4" x2="158.5" y2="320.4"/>
<line x1="153.1" y1="329.5" x2="158.5" y2="329.5"/>
<line x1="177.1" y1="311.6" x2="177.1" y2="320.7"/>
<line x1="174.4" y1="311.6" x2="179.8" y2="311.6"/>
<line x1="174.4" y1="320.7" x2="179.8" y2="320.7"/>
<line x1="198.4" y1="304.8" x2="198.4" y2="313.9"/>
<line x1="195.7" y1="304.8" x2="201.1" y2="304.8"/>
<line x1="195.7" y1="313.9" x2="201.1" y2="313.9"/>
<line x1="219.6" y1="298.7" x2="219.6" y2="307.8"/>
<line x1="216.9" y1="298.7" x2="222.3" y2="298.7"/>
<line x1="216.9" y1="307.8" x2="222.3" y2="307.8"/>
<line x1="240.9" y1="291.9" x2="240.9" y2="301.7"/>
<line x1="238.2" y1="291.9" x2="243.6" y2="291.9"/>
<line x1="238.2" y1="301.7" x2="243.6" y2="301.7"/>
<line x1="262.1" y1="288.1" x2="262.1" y2="297.9"/>
<line x1="259.4" y1="288.1" x2="264.8" y2="288.1"/>
<line x1="259.4" y1="297.9" x2="264.8" y2="297.9"/>
</g>
<polyline points="70.8,383.1 92.1,364.8 113.3,347.3 134.6,334.0 155.8,324.9 177.1,316.2 198.4,309.3 219.6,303.3 240.9,296.8 262.1,293.0" fill="none" stroke="#000" stroke-width="2" stroke-linejoin="round"/>
<rect x="67.3" y="379.6" width="7" height="7" fill="#fff" stroke="#000" stroke-width="1.5"/>
<rect x="88.6" y="361.3" width="7" height="7" fill="#fff" stroke="#000" stroke-width="1.5"/>
<rect x="109.8" y="343.8" width="7" height="7" fill="#fff" stroke="#000" stroke-width="1.5"/>
<rect x="131.1" y="330.5" width="7" height="7" fill="#fff" stroke="#000" stroke-width="1.5"/>
<rect x="152.3" y="321.4" width="7" height="7" fill="#fff" stroke="#000" stroke-width="1.5"/>
<rect x="173.6" y="312.7" width="7" height="7" fill="#fff" stroke="#000" stroke-width="1.5"/>
<rect x="194.9" y="305.8" width="7" height="7" fill="#fff" stroke="#000" stroke-width="1.5"/>
<rect x="216.1" y="299.8" width="7" height="7" fill="#fff" stroke="#000" stroke-width="1.5"/>
<rect x="237.4" y="293.3" width="7" height="7" fill="#fff" stroke="#000" stroke-width="1.5"/>
<rect x="258.6" y="289.5" width="7" height="7" fill="#fff" stroke="#000" stroke-width="1.5"/>
<g stroke="#000" stroke-width="1.3">
<line x1="70.8" y1="377.0" x2="70.8" y2="389.9"/>
<line x1="68.1" y1="377.0" x2="73.5" y2="377.0"/>
<line x1="68.1" y1="389.9" x2="73.5" y2="389.9"/>
<line x1="92.1" y1="360.3" x2="92.1" y2="372.4"/>
<line x1="89.4" y1="360.3" x2="94.8" y2="360.3"/>
<line x1="89.4" y1="372.4" x2="94.8" y2="372.4"/>
<line x1="113.3" y1="346.6" x2="113.3" y2="357.2"/>
<line x1="110.6" y1="346.6" x2="116.0" y2="346.6"/>
<line x1="110.6" y1="357.2" x2="116.0" y2="357.2"/>
<line x1="134.6" y1="335.6" x2="134.6" y2="346.2"/>
<line x1="131.9" y1="335.6" x2="137.3" y2="335.6"/>
<line x1="131.9" y1="346.2" x2="137.3" y2="346.2"/>
<line x1="155.8" y1="331.8" x2="155.8" y2="339.4"/>
<line x1="153.1" y1="331.8" x2="158.5" y2="331.8"/>
<line x1="153.1" y1="339.4" x2="158.5" y2="339.4"/>
<line x1="177.1" y1="318.5" x2="177.1" y2="329.9"/>
<line x1="174.4" y1="318.5" x2="179.8" y2="318.5"/>
<line x1="174.4" y1="329.9" x2="179.8" y2="329.9"/>
<line x1="198.4" y1="312.8" x2="198.4" y2="325.7"/>
<line x1="195.7" y1="312.8" x2="201.1" y2="312.8"/>
<line x1="195.7" y1="325.7" x2="201.1" y2="325.7"/>
<line x1="219.6" y1="307.8" x2="219.6" y2="320.0"/>
<line x1="216.9" y1="307.8" x2="222.3" y2="307.8"/>
<line x1="216.9" y1="320.0" x2="222.3" y2="320.0"/>
<line x1="240.9" y1="303.6" x2="240.9" y2="315.8"/>
<line x1="238.2" y1="303.6" x2="243.6" y2="303.6"/>
<line x1="238.2" y1="315.8" x2="243.6" y2="315.8"/>
<line x1="262.1" y1="301.0" x2="262.1" y2="312.4"/>
<line x1="259.4" y1="301.0" x2="264.8" y2="301.0"/>
<line x1="259.4" y1="312.4" x2="264.8" y2="312.4"/>
</g>
<polyline points="70.8,383.4 92.1,366.3 113.3,351.9 134.6,340.9 155.8,335.6 177.1,324.2 198.4,319.2 219.6,313.9 240.9,309.7 262.1,306.7" fill="none" stroke="#000" stroke-width="2" stroke-linejoin="round"/>
<rect x="67.3" y="379.9" width="7" height="7" fill="#000" stroke="#000" stroke-width="1.5"/>
<rect x="88.6" y="362.8" width="7" height="7" fill="#000" stroke="#000" stroke-width="1.5"/>
<rect x="109.8" y="348.4" width="7" height="7" fill="#000" stroke="#000" stroke-width="1.5"/>
<rect x="131.1" y="337.4" width="7" height="7" fill="#000" stroke="#000" stroke-width="1.5"/>
<rect x="152.3" y="332.1" width="7" height="7" fill="#000" stroke="#000" stroke-width="1.5"/>
<rect x="173.6" y="320.7" width="7" height="7" fill="#000" stroke="#000" stroke-width="1.5"/>
<rect x="194.9" y="315.7" width="7" height="7" fill="#000" stroke="#000" stroke-width="1.5"/>
<rect x="216.1" y="310.4" width="7" height="7" fill="#000" stroke="#000" stroke-width="1.5"/>
<rect x="237.4" y="306.2" width="7" height="7" fill="#000" stroke="#000" stroke-width="1.5"/>
<rect x="258.6" y="303.2" width="7" height="7" fill="#000" stroke="#000" stroke-width="1.5"/>
<rect x="176.3" y="364.3" width="85.69999999999999" height="35.099999999999966" fill="#fff" stroke="#222" stroke-width="1.2"/>
<line x1="188.4" y1="372.7" x2="216" y2="372.7" stroke="#000" stroke-width="2"/>
<rect x="198.7" y="369.2" width="7" height="7" fill="#fff" stroke="#000" stroke-width="1.5"/>
<text x="218.2" y="377.1" font-size="12.6">WT</text>
<line x1="188.4" y1="390.7" x2="216" y2="390.7" stroke="#000" stroke-width="2"/>
<rect x="198.7" y="387.2" width="7" height="7" fill="#000" stroke="#000" stroke-width="1.5"/>
<text x="218.2" y="395.1" font-size="12.6">homo</text>
<g stroke="#333" stroke-width="1.6" fill="none">
<line x1="302.6" y1="273.3" x2="302.6" y2="427.5"/>
<line x1="301.8" y1="427.5" x2="492.2" y2="427.5"/>
<line x1="298.6" y1="427.5" x2="302.6" y2="427.5"/>
<line x1="298.6" y1="389.1" x2="302.6" y2="389.1"/>
<line x1="298.6" y1="350.8" x2="302.6" y2="350.8"/>
<line x1="298.6" y1="312.4" x2="302.6" y2="312.4"/>
<line x1="298.6" y1="274.1" x2="302.6" y2="274.1"/>
<line x1="302.6" y1="427.5" x2="302.6" y2="431.1"/>
<line x1="323.6" y1="427.5" x2="323.6" y2="431.1"/>
<line x1="344.6" y1="427.5" x2="344.6" y2="431.1"/>
<line x1="365.5" y1="427.5" x2="365.5" y2="431.1"/>
<line x1="386.5" y1="427.5" x2="386.5" y2="431.1"/>
<line x1="407.5" y1="427.5" x2="407.5" y2="431.1"/>
<line x1="428.5" y1="427.5" x2="428.5" y2="431.1"/>
<line x1="449.5" y1="427.5" x2="449.5" y2="431.1"/>
<line x1="470.4" y1="427.5" x2="470.4" y2="431.1"/>
<line x1="491.4" y1="427.5" x2="491.4" y2="431.1"/>
</g>
<text x="288.4" y="431.6" font-size="11.5" text-anchor="end">0</text>
<text x="288.4" y="393.2" font-size="11.5" text-anchor="end">100</text>
<text x="288.4" y="354.9" font-size="11.5" text-anchor="end">200</text>
<text x="288.4" y="316.6" font-size="11.5" text-anchor="end">300</text>
<text x="288.4" y="278.2" font-size="11.5" text-anchor="end">400</text>
<text x="302.6" y="447.4" font-size="12.3" text-anchor="middle">6</text>
<text x="323.6" y="447.4" font-size="12.3" text-anchor="middle">7</text>
<text x="344.6" y="447.4" font-size="12.3" text-anchor="middle">8</text>
<text x="365.5" y="447.4" font-size="12.3" text-anchor="middle">9</text>
<text x="386.5" y="447.4" font-size="12.3" text-anchor="middle">10</text>
<text x="407.5" y="447.4" font-size="12.3" text-anchor="middle">11</text>
<text x="428.5" y="447.4" font-size="12.3" text-anchor="middle">12</text>
<text x="449.5" y="447.4" font-size="12.3" text-anchor="middle">13</text>
<text x="470.4" y="447.4" font-size="12.3" text-anchor="middle">14</text>
<text x="491.4" y="447.4" font-size="12.3" text-anchor="middle">15</text>
<text x="414" y="465.2" font-size="12.5" text-anchor="middle" textLength="69" lengthAdjust="spacingAndGlyphs">Age (weeks)</text>
<text x="312.4" y="293" font-size="14" textLength="84" lengthAdjust="spacingAndGlyphs"><tspan font-style="italic">Cyp27b1</tspan>-KO</text>
<g stroke="#000" stroke-width="1.3">
<line x1="302.6" y1="376.9" x2="302.6" y2="380.7"/>
<line x1="299.9" y1="376.9" x2="305.3" y2="376.9"/>
<line x1="299.9" y1="380.7" x2="305.3" y2="380.7"/>
<line x1="323.6" y1="360.8" x2="323.6" y2="364.6"/>
<line x1="320.9" y1="360.8" x2="326.3" y2="360.8"/>
<line x1="320.9" y1="364.6" x2="326.3" y2="364.6"/>
<line x1="344.6" y1="346.6" x2="344.6" y2="350.4"/>
<line x1="341.9" y1="346.6" x2="347.3" y2="346.6"/>
<line x1="341.9" y1="350.4" x2="347.3" y2="350.4"/>
<line x1="365.5" y1="334.7" x2="365.5" y2="339.3"/>
<line x1="362.8" y1="334.7" x2="368.2" y2="334.7"/>
<line x1="362.8" y1="339.3" x2="368.2" y2="339.3"/>
<line x1="386.5" y1="326.6" x2="386.5" y2="332.0"/>
<line x1="383.8" y1="326.6" x2="389.2" y2="326.6"/>
<line x1="383.8" y1="332.0" x2="389.2" y2="332.0"/>
<line x1="407.5" y1="318.6" x2="407.5" y2="325.5"/>
<line x1="404.8" y1="318.6" x2="410.2" y2="318.6"/>
<line x1="404.8" y1="325.5" x2="410.2" y2="325.5"/>
<line x1="428.5" y1="313.2" x2="428.5" y2="321.7"/>
<line x1="425.8" y1="313.2" x2="431.2" y2="313.2"/>
<line x1="425.8" y1="321.7" x2="431.2" y2="321.7"/>
<line x1="449.5" y1="309.8" x2="449.5" y2="319.0"/>
<line x1="446.8" y1="309.8" x2="452.2" y2="309.8"/>
<line x1="446.8" y1="319.0" x2="452.2" y2="319.0"/>
<line x1="470.4" y1="307.1" x2="470.4" y2="317.1"/>
<line x1="467.7" y1="307.1" x2="473.1" y2="307.1"/>
<line x1="467.7" y1="317.1" x2="473.1" y2="317.1"/>
<line x1="491.4" y1="304.0" x2="491.4" y2="314.8"/>
<line x1="488.7" y1="304.0" x2="494.1" y2="304.0"/>
<line x1="488.7" y1="314.8" x2="494.1" y2="314.8"/>
</g>
<polyline points="302.6,378.8 323.6,362.7 344.6,348.5 365.5,337.0 386.5,329.3 407.5,322.0 428.5,317.4 449.5,314.4 470.4,312.1 491.4,309.4" fill="none" stroke="#000" stroke-width="2" stroke-linejoin="round"/>
<circle cx="302.6" cy="378.8" r="3.6" fill="#fff" stroke="#000" stroke-width="1.4"/>
<circle cx="323.6" cy="362.7" r="3.6" fill="#fff" stroke="#000" stroke-width="1.4"/>
<circle cx="344.6" cy="348.5" r="3.6" fill="#fff" stroke="#000" stroke-width="1.4"/>
<circle cx="365.5" cy="337.0" r="3.6" fill="#fff" stroke="#000" stroke-width="1.4"/>
<circle cx="386.5" cy="329.3" r="3.6" fill="#fff" stroke="#000" stroke-width="1.4"/>
<circle cx="407.5" cy="322.0" r="3.6" fill="#fff" stroke="#000" stroke-width="1.4"/>
<circle cx="428.5" cy="317.4" r="3.6" fill="#fff" stroke="#000" stroke-width="1.4"/>
<circle cx="449.5" cy="314.4" r="3.6" fill="#fff" stroke="#000" stroke-width="1.4"/>
<circle cx="470.4" cy="312.1" r="3.6" fill="#fff" stroke="#000" stroke-width="1.4"/>
<circle cx="491.4" cy="309.4" r="3.6" fill="#fff" stroke="#000" stroke-width="1.4"/>
<g stroke="#000" stroke-width="1.3">
<line x1="302.6" y1="374.2" x2="302.6" y2="378.0"/>
<line x1="299.9" y1="374.2" x2="305.3" y2="374.2"/>
<line x1="299.9" y1="378.0" x2="305.3" y2="378.0"/>
<line x1="323.6" y1="369.6" x2="323.6" y2="373.4"/>
<line x1="320.9" y1="369.6" x2="326.3" y2="369.6"/>
<line x1="320.9" y1="373.4" x2="326.3" y2="373.4"/>
<line x1="344.6" y1="360.8" x2="344.6" y2="364.6"/>
<line x1="341.9" y1="360.8" x2="347.3" y2="360.8"/>
<line x1="341.9" y1="364.6" x2="347.3" y2="364.6"/>
<line x1="365.5" y1="351.6" x2="365.5" y2="356.2"/>
<line x1="362.8" y1="351.6" x2="368.2" y2="351.6"/>
<line x1="362.8" y1="356.2" x2="368.2" y2="356.2"/>
<line x1="386.5" y1="344.3" x2="386.5" y2="349.6"/>
<line x1="383.8" y1="344.3" x2="389.2" y2="344.3"/>
<line x1="383.8" y1="349.6" x2="389.2" y2="349.6"/>
<line x1="407.5" y1="337.0" x2="407.5" y2="343.1"/>
<line x1="404.8" y1="337.0" x2="410.2" y2="337.0"/>
<line x1="404.8" y1="343.1" x2="410.2" y2="343.1"/>
<line x1="428.5" y1="333.9" x2="428.5" y2="340.8"/>
<line x1="425.8" y1="333.9" x2="431.2" y2="333.9"/>
<line x1="425.8" y1="340.8" x2="431.2" y2="340.8"/>
<line x1="449.5" y1="328.2" x2="449.5" y2="335.8"/>
<line x1="446.8" y1="328.2" x2="452.2" y2="328.2"/>
<line x1="446.8" y1="335.8" x2="452.2" y2="335.8"/>
<line x1="470.4" y1="325.5" x2="470.4" y2="333.9"/>
<line x1="467.7" y1="325.5" x2="473.1" y2="325.5"/>
<line x1="467.7" y1="333.9" x2="473.1" y2="333.9"/>
<line x1="491.4" y1="327.4" x2="491.4" y2="333.5"/>
<line x1="488.7" y1="327.4" x2="494.1" y2="327.4"/>
<line x1="488.7" y1="333.5" x2="494.1" y2="333.5"/>
</g>
<polyline points="302.6,376.1 323.6,371.5 344.6,362.7 365.5,353.9 386.5,347.0 407.5,340.1 428.5,337.4 449.5,332.0 470.4,329.7 491.4,330.5" fill="none" stroke="#000" stroke-width="2" stroke-linejoin="round"/>
<circle cx="302.6" cy="376.1" r="3.6" fill="#000" stroke="#000" stroke-width="1.4"/>
<circle cx="323.6" cy="371.5" r="3.6" fill="#000" stroke="#000" stroke-width="1.4"/>
<circle cx="344.6" cy="362.7" r="3.6" fill="#000" stroke="#000" stroke-width="1.4"/>
<circle cx="365.5" cy="353.9" r="3.6" fill="#000" stroke="#000" stroke-width="1.4"/>
<circle cx="386.5" cy="347.0" r="3.6" fill="#000" stroke="#000" stroke-width="1.4"/>
<circle cx="407.5" cy="340.1" r="3.6" fill="#000" stroke="#000" stroke-width="1.4"/>
<circle cx="428.5" cy="337.4" r="3.6" fill="#000" stroke="#000" stroke-width="1.4"/>
<circle cx="449.5" cy="332.0" r="3.6" fill="#000" stroke="#000" stroke-width="1.4"/>
<circle cx="470.4" cy="329.7" r="3.6" fill="#000" stroke="#000" stroke-width="1.4"/>
<circle cx="491.4" cy="330.5" r="3.6" fill="#000" stroke="#000" stroke-width="1.4"/>
<rect x="409.3" y="366.3" width="85.59999999999997" height="38.0" fill="#fff" stroke="#222" stroke-width="1.2"/>
<line x1="421.3" y1="375.9" x2="449.3" y2="375.9" stroke="#000" stroke-width="2"/>
<circle cx="435.3" cy="375.9" r="3.6" fill="#fff" stroke="#000" stroke-width="1.4"/>
<text x="451.8" y="380.3" font-size="12.6">WT</text>
<line x1="421.3" y1="394.6" x2="449.3" y2="394.6" stroke="#000" stroke-width="2"/>
<circle cx="435.3" cy="394.6" r="3.6" fill="#000" stroke="#000" stroke-width="1.4"/>
<text x="451.8" y="399.0" font-size="12.6">homo</text>
<g stroke="#111" stroke-width="1.6" fill="none">
<line x1="542.9" y1="278.4" x2="542.9" y2="428.4"/>
<line x1="542.1" y1="428.4" x2="732.5" y2="428.4"/>
<line x1="538.9" y1="428.4" x2="542.9" y2="428.4"/>
<line x1="538.9" y1="391.1" x2="542.9" y2="391.1"/>
<line x1="538.9" y1="353.8" x2="542.9" y2="353.8"/>
<line x1="538.9" y1="316.5" x2="542.9" y2="316.5"/>
<line x1="538.9" y1="279.2" x2="542.9" y2="279.2"/>
<line x1="542.9" y1="428.4" x2="542.9" y2="432.0"/>
<line x1="563.9" y1="428.4" x2="563.9" y2="432.0"/>
<line x1="584.9" y1="428.4" x2="584.9" y2="432.0"/>
<line x1="605.8" y1="428.4" x2="605.8" y2="432.0"/>
<line x1="626.8" y1="428.4" x2="626.8" y2="432.0"/>
<line x1="647.8" y1="428.4" x2="647.8" y2="432.0"/>
<line x1="668.8" y1="428.4" x2="668.8" y2="432.0"/>
<line x1="689.8" y1="428.4" x2="689.8" y2="432.0"/>
<line x1="710.7" y1="428.4" x2="710.7" y2="432.0"/>
<line x1="731.7" y1="428.4" x2="731.7" y2="432.0"/>
</g>
<text x="528.4" y="432.5" font-size="11.5" text-anchor="end">0</text>
<text x="528.4" y="395.2" font-size="11.5" text-anchor="end">100</text>
<text x="528.4" y="357.9" font-size="11.5" text-anchor="end">200</text>
<text x="528.4" y="320.6" font-size="11.5" text-anchor="end">300</text>
<text x="528.4" y="283.3" font-size="11.5" text-anchor="end">400</text>
<text x="542.9" y="447.4" font-size="12.3" text-anchor="middle">6</text>
<text x="563.9" y="447.4" font-size="12.3" text-anchor="middle">7</text>
<text x="584.9" y="447.4" font-size="12.3" text-anchor="middle">8</text>
<text x="605.8" y="447.4" font-size="12.3" text-anchor="middle">9</text>
<text x="626.8" y="447.4" font-size="12.3" text-anchor="middle">10</text>
<text x="647.8" y="447.4" font-size="12.3" text-anchor="middle">11</text>
<text x="668.8" y="447.4" font-size="12.3" text-anchor="middle">12</text>
<text x="689.8" y="447.4" font-size="12.3" text-anchor="middle">13</text>
<text x="710.7" y="447.4" font-size="12.3" text-anchor="middle">14</text>
<text x="731.7" y="447.4" font-size="12.3" text-anchor="middle">15</text>
<text x="656.5" y="465.2" font-size="12.5" text-anchor="middle" textLength="69" lengthAdjust="spacingAndGlyphs">Age (weeks)</text>
<text x="550.0" y="295.6" font-size="14" textLength="48.8" lengthAdjust="spacingAndGlyphs"><tspan font-style="italic">Vdr</tspan>-KO</text>
<g stroke="#000" stroke-width="1.3">
<line x1="542.9" y1="377.3" x2="542.9" y2="381.8"/>
<line x1="540.2" y1="377.3" x2="545.6" y2="377.3"/>
<line x1="540.2" y1="381.8" x2="545.6" y2="381.8"/>
<line x1="563.9" y1="360.1" x2="563.9" y2="366.1"/>
<line x1="561.2" y1="360.1" x2="566.6" y2="360.1"/>
<line x1="561.2" y1="366.1" x2="566.6" y2="366.1"/>
<line x1="584.9" y1="344.8" x2="584.9" y2="350.8"/>
<line x1="582.2" y1="344.8" x2="587.6" y2="344.8"/>
<line x1="582.2" y1="350.8" x2="587.6" y2="350.8"/>
<line x1="605.8" y1="335.5" x2="605.8" y2="341.5"/>
<line x1="603.1" y1="335.5" x2="608.5" y2="335.5"/>
<line x1="603.1" y1="341.5" x2="608.5" y2="341.5"/>
<line x1="626.8" y1="325.8" x2="626.8" y2="334.8"/>
<line x1="624.1" y1="325.8" x2="629.5" y2="325.8"/>
<line x1="624.1" y1="334.8" x2="629.5" y2="334.8"/>
<line x1="647.8" y1="319.5" x2="647.8" y2="331.4"/>
<line x1="645.1" y1="319.5" x2="650.5" y2="319.5"/>
<line x1="645.1" y1="331.4" x2="650.5" y2="331.4"/>
<line x1="668.8" y1="310.9" x2="668.8" y2="320.6"/>
<line x1="666.1" y1="310.9" x2="671.5" y2="310.9"/>
<line x1="666.1" y1="320.6" x2="671.5" y2="320.6"/>
<line x1="689.8" y1="305.7" x2="689.8" y2="314.6"/>
<line x1="687.1" y1="305.7" x2="692.5" y2="305.7"/>
<line x1="687.1" y1="314.6" x2="692.5" y2="314.6"/>
<line x1="710.7" y1="298.6" x2="710.7" y2="306.8"/>
<line x1="708.0" y1="298.6" x2="713.4" y2="298.6"/>
<line x1="708.0" y1="306.8" x2="713.4" y2="306.8"/>
<line x1="731.7" y1="294.5" x2="731.7" y2="304.2"/>
<line x1="729.0" y1="294.5" x2="734.4" y2="294.5"/>
<line x1="729.0" y1="304.2" x2="734.4" y2="304.2"/>
</g>
<polyline points="542.9,379.5 563.9,363.1 584.9,347.8 605.8,338.5 626.8,330.3 647.8,325.5 668.8,315.8 689.8,310.2 710.7,302.7 731.7,299.3" fill="none" stroke="#000" stroke-width="2" stroke-linejoin="round"/>
<path d="M542.9,375.1 L547.3,382.8 L538.5,382.8Z" fill="#fff" stroke="#000" stroke-width="1.4" stroke-linejoin="miter"/>
<path d="M563.9,358.7 L568.3,366.4 L559.5,366.4Z" fill="#fff" stroke="#000" stroke-width="1.4" stroke-linejoin="miter"/>
<path d="M584.9,343.4 L589.3,351.1 L580.5,351.1Z" fill="#fff" stroke="#000" stroke-width="1.4" stroke-linejoin="miter"/>
<path d="M605.8,334.1 L610.2,341.8 L601.4,341.8Z" fill="#fff" stroke="#000" stroke-width="1.4" stroke-linejoin="miter"/>
<path d="M626.8,325.9 L631.2,333.6 L622.4,333.6Z" fill="#fff" stroke="#000" stroke-width="1.4" stroke-linejoin="miter"/>
<path d="M647.8,321.1 L652.2,328.8 L643.4,328.8Z" fill="#fff" stroke="#000" stroke-width="1.4" stroke-linejoin="miter"/>
<path d="M668.8,311.4 L673.2,319.1 L664.4,319.1Z" fill="#fff" stroke="#000" stroke-width="1.4" stroke-linejoin="miter"/>
<path d="M689.8,305.8 L694.2,313.5 L685.4,313.5Z" fill="#fff" stroke="#000" stroke-width="1.4" stroke-linejoin="miter"/>
<path d="M710.7,298.3 L715.1,306.0 L706.3,306.0Z" fill="#fff" stroke="#000" stroke-width="1.4" stroke-linejoin="miter"/>
<path d="M731.7,294.9 L736.1,302.6 L727.3,302.6Z" fill="#fff" stroke="#000" stroke-width="1.4" stroke-linejoin="miter"/>
<g stroke="#000" stroke-width="1.3">
<line x1="542.9" y1="379.5" x2="542.9" y2="385.5"/>
<line x1="540.2" y1="379.5" x2="545.6" y2="379.5"/>
<line x1="540.2" y1="385.5" x2="545.6" y2="385.5"/>
<line x1="563.9" y1="365.4" x2="563.9" y2="371.3"/>
<line x1="561.2" y1="365.4" x2="566.6" y2="365.4"/>
<line x1="561.2" y1="371.3" x2="566.6" y2="371.3"/>
<line x1="584.9" y1="351.6" x2="584.9" y2="357.5"/>
<line x1="582.2" y1="351.6" x2="587.6" y2="351.6"/>
<line x1="582.2" y1="357.5" x2="587.6" y2="357.5"/>
<line x1="605.8" y1="341.9" x2="605.8" y2="349.3"/>
<line x1="603.1" y1="341.9" x2="608.5" y2="341.9"/>
<line x1="603.1" y1="349.3" x2="608.5" y2="349.3"/>
<line x1="626.8" y1="335.9" x2="626.8" y2="344.8"/>
<line x1="624.1" y1="335.9" x2="629.5" y2="335.9"/>
<line x1="624.1" y1="344.8" x2="629.5" y2="344.8"/>
<line x1="647.8" y1="330.7" x2="647.8" y2="341.1"/>
<line x1="645.1" y1="330.7" x2="650.5" y2="330.7"/>
<line x1="645.1" y1="341.1" x2="650.5" y2="341.1"/>
<line x1="668.8" y1="320.6" x2="668.8" y2="331.8"/>
<line x1="666.1" y1="320.6" x2="671.5" y2="320.6"/>
<line x1="666.1" y1="331.8" x2="671.5" y2="331.8"/>
<line x1="689.8" y1="309.8" x2="689.8" y2="323.2"/>
<line x1="687.1" y1="309.8" x2="692.5" y2="309.8"/>
<line x1="687.1" y1="323.2" x2="692.5" y2="323.2"/>
<line x1="710.7" y1="301.6" x2="710.7" y2="317.2"/>
<line x1="708.0" y1="301.6" x2="713.4" y2="301.6"/>
<line x1="708.0" y1="317.2" x2="713.4" y2="317.2"/>
<line x1="731.7" y1="299.7" x2="731.7" y2="314.6"/>
<line x1="729.0" y1="299.7" x2="734.4" y2="299.7"/>
<line x1="729.0" y1="314.6" x2="734.4" y2="314.6"/>
</g>
<polyline points="542.9,382.5 563.9,368.3 584.9,354.5 605.8,345.6 626.8,340.4 647.8,335.9 668.8,326.2 689.8,316.5 710.7,309.4 731.7,307.2" fill="none" stroke="#000" stroke-width="2" stroke-linejoin="round"/>
<path d="M542.9,378.1 L547.3,385.8 L538.5,385.8Z" fill="#000" stroke="#000" stroke-width="1.4" stroke-linejoin="miter"/>
<path d="M563.9,363.9 L568.3,371.6 L559.5,371.6Z" fill="#000" stroke="#000" stroke-width="1.4" stroke-linejoin="miter"/>
<path d="M584.9,350.1 L589.3,357.8 L580.5,357.8Z" fill="#000" stroke="#000" stroke-width="1.4" stroke-linejoin="miter"/>
<path d="M605.8,341.2 L610.2,348.9 L601.4,348.9Z" fill="#000" stroke="#000" stroke-width="1.4" stroke-linejoin="miter"/>
<path d="M626.8,336.0 L631.2,343.7 L622.4,343.7Z" fill="#000" stroke="#000" stroke-width="1.4" stroke-linejoin="miter"/>
<path d="M647.8,331.5 L652.2,339.2 L643.4,339.2Z" fill="#000" stroke="#000" stroke-width="1.4" stroke-linejoin="miter"/>
<path d="M668.8,321.8 L673.2,329.5 L664.4,329.5Z" fill="#000" stroke="#000" stroke-width="1.4" stroke-linejoin="miter"/>
<path d="M689.8,312.1 L694.2,319.8 L685.4,319.8Z" fill="#000" stroke="#000" stroke-width="1.4" stroke-linejoin="miter"/>
<path d="M710.7,305.0 L715.1,312.7 L706.3,312.7Z" fill="#000" stroke="#000" stroke-width="1.4" stroke-linejoin="miter"/>
<path d="M731.7,302.8 L736.1,310.5 L727.3,310.5Z" fill="#000" stroke="#000" stroke-width="1.4" stroke-linejoin="miter"/>
<rect x="650" y="368.6" width="83.29999999999995" height="41.69999999999999" fill="#fff" stroke="#222" stroke-width="1.2"/>
<line x1="661" y1="379.4" x2="688.7" y2="379.4" stroke="#000" stroke-width="2"/>
<path d="M674.9,375.0 L679.2,382.7 L670.5,382.7Z" fill="#fff" stroke="#000" stroke-width="1.4" stroke-linejoin="miter"/>
<text x="691.2" y="383.8" font-size="12.6">WT</text>
<line x1="661" y1="400" x2="688.7" y2="400" stroke="#000" stroke-width="2"/>
<path d="M674.9,395.6 L679.2,403.3 L670.5,403.3Z" fill="#000" stroke="#000" stroke-width="1.4" stroke-linejoin="miter"/>
<text x="691.2" y="404.4" font-size="12.6">homo</text>
<text transform="translate(26,384) rotate(-90)" font-size="12.8" textLength="85.5" lengthAdjust="spacingAndGlyphs">Bodyweight (g)</text>
</svg></body></html>
